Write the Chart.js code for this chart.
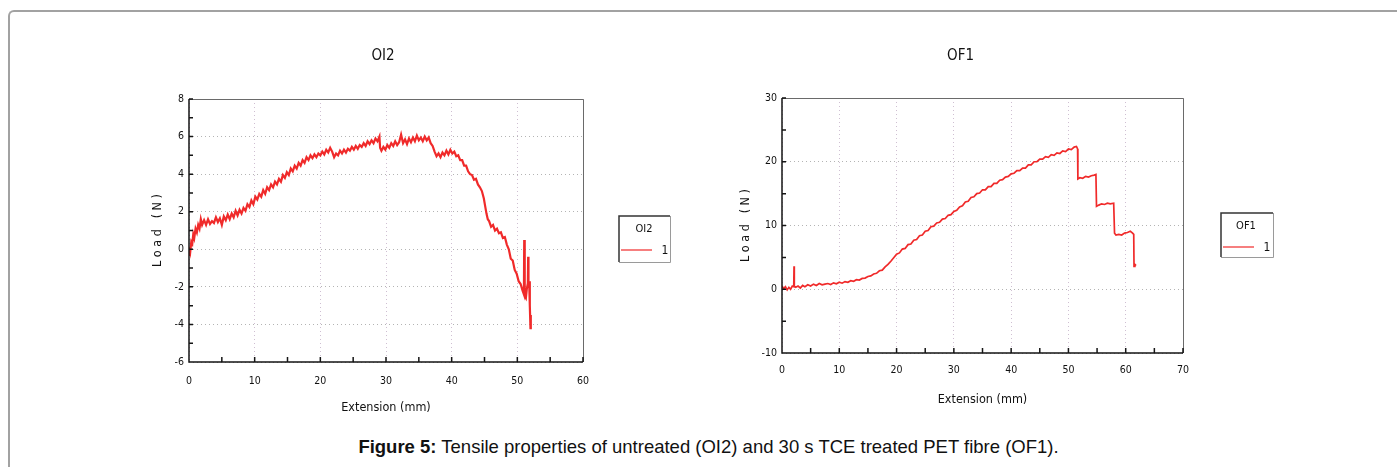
<!DOCTYPE html>
<html>
<head>
<meta charset="utf-8">
<script src="https://cdn.jsdelivr.net/npm/chart.js@4.4.1/dist/chart.umd.min.js"></script>
<style>
  html, body { margin: 0; padding: 0; background: #fff; }
  #page { position: relative; width: 1397px; height: 467px; overflow: hidden; background: #fff; }
  #frame { position: absolute; left: 8px; top: 10px; width: 1420px; height: 480px;
           border-top: 2px solid #a2a2a2; border-left: 2px solid #a2a2a2; border-top-left-radius: 6px; }
  canvas { position: absolute; }
  #c1 { left: 120px; top: 30px; }
  #c2 { left: 710px; top: 30px; }
  #caption { position: absolute; left: 20px; right: 0; top: 436px; text-align: center;
             font-family: "Liberation Sans", Arial, sans-serif; font-size: 18.5px; color: #111; }
</style>
</head>
<body>
<div id="page">
  <div id="frame"></div>
  <canvas id="c1" width="580" height="395"></canvas>
  <canvas id="c2" width="590" height="395"></canvas>
  <div id="caption"><b>Figure 5:</b> Tensile properties of untreated (OI2) and 30 s TCE treated PET fibre (OF1).</div>
</div>
<script>
// Data (Extension mm / Load N)
const oi2Ext = [
  0, 0.1, 0.2, 0.35, 0.5, 0.65, 0.8, 1.0, 1.2, 1.4, 1.6, 1.8, 2.0,
  2.3, 2.6, 2.9, 3.2, 3.5, 3.8, 4.1, 4.4, 4.7, 5.0, 5.3, 5.6, 5.9, 6.2, 6.5, 6.8, 7.1, 7.4, 7.7, 8.0,
  8.3, 8.6, 8.9, 9.2, 9.5, 9.8, 10.1, 10.4, 10.7, 11.0, 11.3, 11.6, 11.9, 12.2, 12.5, 12.8, 13.1, 13.4, 13.7, 14.0,
  14.3, 14.6, 14.9, 15.2, 15.5, 15.8, 16.1, 16.4, 16.7, 17.0,
  17.3, 17.6, 17.9, 18.2, 18.5, 18.8, 19.1, 19.4, 19.7, 20.0, 20.3, 20.6, 20.9, 21.2, 21.5,
  21.8, 22.1, 22.4,
  22.7, 23.0, 23.3, 23.6, 23.9, 24.2, 24.5, 24.8, 25.1, 25.4, 25.7, 26.0, 26.3, 26.6, 26.9, 27.2, 27.5, 27.8, 28.1, 28.4, 28.7, 29.0,
  29.1, 29.3,
  29.6, 29.9, 30.2, 30.5, 30.8, 31.1, 31.4, 31.7, 32.0, 32.3, 32.6, 32.9, 33.2, 33.5, 33.8, 34.1, 34.4, 34.7, 35.0, 35.3, 35.6, 35.9, 36.2, 36.5,
  36.8, 37.1, 37.4, 37.7,
  38.0, 38.3, 38.6, 38.9, 39.2, 39.5, 39.8, 40.1, 40.4,
  40.7, 41.0, 41.3, 41.6, 41.9, 42.2, 42.5, 42.8, 43.1, 43.4, 43.7, 44.0, 44.3, 44.6, 44.9,
  45.1, 45.3, 45.5, 45.7, 46.0,
  46.3, 46.6, 46.9, 47.2, 47.5, 47.8, 48.1, 48.4,
  48.7, 49.0, 49.3, 49.6, 49.9, 50.2, 50.5, 50.8, 51.0,
  51.05, 51.1, 51.15, 51.3, 51.45, 51.6, 51.65, 51.7, 51.8, 51.9, 52.0, 52.05
];
const oi2Load = [
  -0.3, 0.1, -0.1, 0.4, 0.3, 0.8, 0.6, 1.1, 0.9, 1.3, 1.1, 1.6, 1.3,
  1.55, 1.3, 1.6, 1.35, 1.5, 1.4, 1.7, 1.45, 1.65, 1.3, 1.75, 1.55, 1.85, 1.6, 1.9, 1.7, 2.05, 1.8, 2.1, 1.9,
  2.2, 2.05, 2.4, 2.25, 2.6, 2.4, 2.8, 2.65, 2.95, 2.8, 3.15, 2.95, 3.3, 3.15, 3.45, 3.3, 3.6, 3.45, 3.75, 3.6,
  3.95, 3.8, 4.1, 3.95, 4.3, 4.15, 4.45, 4.3, 4.6, 4.45,
  4.75, 4.6, 4.9, 4.75, 5.0, 4.85, 5.05, 4.9, 5.1, 5.0, 5.2, 5.05, 5.3, 5.15, 5.4,
  5.2, 4.9, 5.1,
  5.0, 5.25, 5.1, 5.3, 5.15, 5.35, 5.25, 5.45, 5.3, 5.5, 5.35, 5.55, 5.45, 5.65, 5.5, 5.75, 5.6, 5.8, 5.65, 5.9, 5.75, 6.0,
  5.4, 5.25,
  5.45, 5.3, 5.55, 5.4, 5.65, 5.5, 5.75, 5.55, 5.7, 6.1, 5.65, 5.85, 5.6, 5.9, 5.7, 5.95, 5.75, 6.05, 5.8, 5.95, 5.75, 6.0, 5.8, 5.95,
  5.65, 5.5, 5.2, 4.95,
  5.1, 4.9, 5.15, 5.0, 5.25, 5.05, 5.3, 5.1, 5.2,
  4.95, 5.0, 4.75, 4.75, 4.45, 4.45, 4.15, 4.0, 3.95, 3.7, 3.75, 3.45, 3.3, 3.1, 2.7,
  2.3, 1.9, 1.6, 1.5, 1.2,
  1.3, 1.0, 1.1, 0.85, 0.9, 0.6, 0.65, 0.25,
  0.0, -0.5, -0.6, -1.1, -1.3, -1.7, -1.85, -2.2, -2.4,
  0.5, -1.9, -2.5, -2.6, -2.1, -1.8, -0.4, -1.9, -1.7, -3.0, -4.2, -3.5
];

const of1Ext = [
  0, 0.3, 0.6, 0.9, 1.2, 1.5, 1.8, 2.05, 2.1, 2.15, 2.4, 2.8, 3.2, 3.6, 4.0, 4.5, 5.0, 5.5, 6.0, 6.5,
  7.0, 7.5, 8.0, 8.5, 9.0, 9.5, 10.0, 10.5, 11.0, 11.5, 12.0, 12.5, 13.0, 13.5, 14.0, 14.5, 15.0, 15.5,
  16.0, 16.5, 17.0, 17.5, 18.0, 18.5, 19.0, 19.5, 20.0, 20.5, 21.0, 21.5, 22.0, 22.5, 23.0, 23.5,
  24.0, 24.5, 25.0, 25.5, 26.0, 26.5, 27.0, 27.5, 28.0, 28.5, 29.0, 29.5, 30.0, 30.5, 31.0, 31.5,
  32.0, 32.5, 33.0, 33.5, 34.0, 34.5, 35.0, 35.5, 36.0, 36.5, 37.0, 37.5, 38.0, 38.5, 39.0, 39.5,
  40.0, 40.5, 41.0, 41.5, 42.0, 42.5, 43.0, 43.5, 44.0, 44.5, 45.0, 45.5, 46.0, 46.5, 47.0, 47.5,
  48.0, 48.5, 49.0, 49.5, 50.0, 50.5, 51.0, 51.4, 51.6,
  51.65, 52.0, 52.5, 53.0, 53.5, 54.0, 54.5, 54.8,
  54.9, 55.3, 55.8, 56.3, 56.8, 57.3, 57.9,
  58.05, 58.3, 58.8, 59.3, 59.8, 60.3, 60.8, 61.2, 61.4,
  61.45, 61.6, 61.8
];
const of1Load = [
  0.5, 0.1, 0.4, -0.1, 0.3, 0.0, 0.5, 0.4, 3.6, 0.5, 0.3, 0.5, 0.2, 0.6, 0.4, 0.7, 0.5, 0.8, 0.6, 0.9,
  0.7, 0.8, 0.9, 0.75, 1.0, 0.85, 1.1, 0.95, 1.2, 1.1, 1.35, 1.25, 1.5, 1.45, 1.7, 1.75, 2.0, 2.1,
  2.4, 2.5, 2.9, 3.0, 3.5, 3.9, 4.4, 4.95, 5.5, 5.7, 6.3, 6.4, 7.0, 7.1, 7.7, 7.8,
  8.4, 8.5, 9.1, 9.2, 9.8, 9.9, 10.4, 10.5, 11.0, 11.1, 11.6, 11.7, 12.2, 12.4, 12.9, 13.1,
  13.7, 13.8, 14.4, 14.5, 15.0, 15.1, 15.6, 15.6, 16.1, 16.1, 16.6, 16.6, 17.1, 17.2, 17.6, 17.7,
  18.1, 18.2, 18.6, 18.6, 19.0, 19.0, 19.5, 19.5, 20.0, 20.0, 20.4, 20.4, 20.8, 20.7, 21.1, 21.0,
  21.4, 21.3, 21.7, 21.6, 22.0, 21.9, 22.3, 22.4, 22.0,
  17.3, 17.5, 17.4, 17.7, 17.6, 17.8, 17.9, 18.0,
  13.0, 13.2, 13.4, 13.3, 13.5, 13.4, 13.5,
  8.8, 8.5, 8.6, 8.5, 8.8, 8.9, 9.1, 8.8, 8.6,
  3.6, 3.9, 3.7
];

const oi2Ticks = { xMin: 0, xMax: 60, xStep: 10, xMinor: 5, yMin: -6, yMax: 8, yStep: 2, yMinor: 1 };
const of1Ticks = { xMin: 0, xMax: 70, xStep: 10, xMinor: 5, yMin: -10, yMax: 30, yStep: 10, yMinor: 5 };

const FONT = '"DejaVu Sans Condensed", "DejaVu Sans", sans-serif';
const RED = '#f02a2a';

// frame, inward ticks, title and the boxed legend
const decoPlugin = {
  id: 'deco',
  afterDraw(chart, args, opts) {
    const { ctx, chartArea: a, scales: { x, y } } = chart;
    ctx.save();
    ctx.setLineDash([]);
    ctx.lineWidth = 1;
    ctx.strokeStyle = '#6a6a6a';
    ctx.beginPath();
    ctx.moveTo(a.left, a.top + 0.5); ctx.lineTo(a.right + 0.5, a.top + 0.5); ctx.lineTo(a.right + 0.5, a.bottom);
    ctx.stroke();

    ctx.lineWidth = 1.5;
    ctx.strokeStyle = '#151515';
    ctx.beginPath();
    ctx.moveTo(a.left, a.top); ctx.lineTo(a.left, a.bottom); ctx.lineTo(a.right, a.bottom);
    for (let v = x.min; v <= x.max + 1e-9; v += opts.xMinor) {
      const px = x.getPixelForValue(v);
      ctx.moveTo(px, a.bottom); ctx.lineTo(px, a.bottom - 5);
    }
    for (let v = y.min; v <= y.max + 1e-9; v += opts.yMinor) {
      const py = y.getPixelForValue(v);
      ctx.moveTo(a.left, py); ctx.lineTo(a.left + 4, py);
    }
    ctx.stroke();

    // title
    ctx.fillStyle = '#111';
    ctx.font = '15px ' + FONT;
    ctx.textAlign = 'center';
    ctx.textBaseline = 'middle';
    ctx.fillText(opts.title, (a.left + a.right) / 2 + opts.titleDx, opts.titleY);

    // legend box
    const bx = a.right + opts.legendDx, by = opts.legendY, bw = opts.legendW, bh = opts.legendH;
    ctx.lineWidth = 1;
    ctx.strokeStyle = '#9a9a9a';
    ctx.beginPath();
    ctx.moveTo(bx + bw + 0.5, by); ctx.lineTo(bx + bw + 0.5, by + bh + 0.5); ctx.lineTo(bx, by + bh + 0.5);
    ctx.stroke();
    ctx.lineWidth = 1.5;
    ctx.strokeStyle = '#333';
    ctx.beginPath();
    ctx.moveTo(bx, by + bh); ctx.lineTo(bx, by); ctx.lineTo(bx + bw, by);
    ctx.stroke();
    const ds = chart.data.datasets[0];
    ctx.font = '11px ' + FONT;
    ctx.fillText(ds.label, bx + 25, by + 13);
    ctx.strokeStyle = ds.borderColor;
    ctx.lineWidth = 1.2;
    ctx.beginPath();
    ctx.moveTo(bx + 2, by + 34); ctx.lineTo(bx + 33, by + 34);
    ctx.stroke();
    ctx.font = '12px ' + FONT;
    ctx.fillText('1', bx + 46, by + 35);
    ctx.restore();
  }
};

function makeChart(id, ext, load, label, t, lay) {
  const points = ext.map((v, i) => ({ x: v, y: load[i] }));
  return new Chart(document.getElementById(id), {
    type: 'scatter',
    data: {
      datasets: [{
        label: label,
        data: points,
        showLine: true,
        borderColor: RED,
        borderWidth: lay.lineWidth,
        pointRadius: 0,
        tension: 0
      }]
    },
    options: {
      responsive: false,
      animation: false,
      devicePixelRatio: 1,
      layout: { padding: lay.padding },
      plugins: {
        legend: { display: false },
        title: { display: false },
        tooltip: { enabled: false },
        deco: {
          title: label, titleDx: lay.titleDx, titleY: 26,
          legendDx: lay.legendDx, legendY: lay.legendY, legendW: lay.legendW, legendH: lay.legendH,
          xMinor: t.xMinor, yMinor: t.yMinor
        }
      },
      scales: {
        x: {
          type: 'linear', min: t.xMin, max: t.xMax,
          afterFit: s => { s.height = lay.xHeight; },
          ticks: { stepSize: t.xStep, padding: lay.xPad, color: '#111', font: { family: FONT, size: 10.5 }, maxRotation: 0 },
          grid: { drawTicks: false, color: '#cfbfd2', lineWidth: 1 },
          border: { display: false, dash: [1, 3] },
          title: { display: true, text: 'Extension (mm)', color: '#111', font: { family: FONT, size: 12.5 }, padding: { top: 4, bottom: 4 } }
        },
        y: {
          type: 'linear', min: t.yMin, max: t.yMax,
          afterFit: s => { s.width = lay.yWidth; },
          ticks: { stepSize: t.yStep, padding: 5, color: '#111', font: { family: FONT, size: 10.5 } },
          grid: { drawTicks: false, color: '#b4b4b4', lineWidth: 1 },
          border: { display: false, dash: [1, 3] },
          title: { display: true, text: 'L o a d   ( N )', color: '#111', font: { family: FONT, size: 12.5 }, padding: { top: 4, bottom: 4 } }
        }
      }
    },
    plugins: [decoPlugin]
  });
}

makeChart('c1', oi2Ext, oi2Load, 'OI2', oi2Ticks, {
  padding: { left: 26, right: 117, top: 69, bottom: 6 },
  yWidth: 43, xHeight: 57, xPad: 13, titleDx: -3, lineWidth: 2.2,
  legendDx: 36, legendY: 186, legendW: 51, legendH: 46
});
makeChart('c2', of1Ext, of1Load, 'OF1', of1Ticks, {
  padding: { left: 24, right: 117, top: 68, bottom: 14 },
  yWidth: 48, xHeight: 58, xPad: 11, titleDx: -22, lineWidth: 1.7,
  legendDx: 38, legendY: 183, legendW: 52, legendH: 44
});
</script>
</body>
</html>
